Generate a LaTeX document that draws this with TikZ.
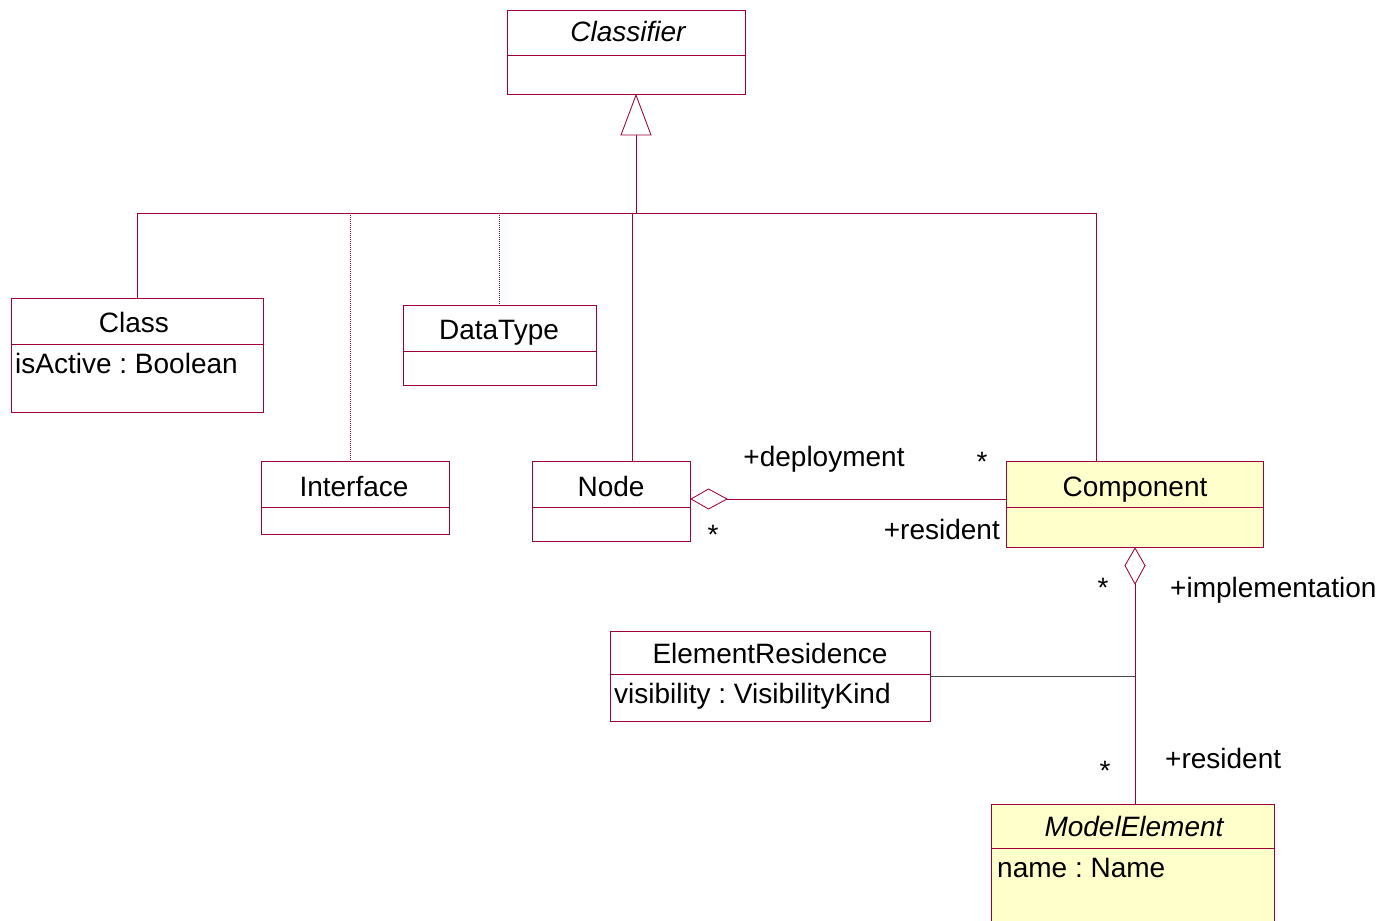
\documentclass[tikz,border=0pt]{standalone}
\usepackage{fontspec}
\setmainfont{Liberation Sans}
\frenchspacing
\begin{document}
\begin{tikzpicture}[x=1pt,y=-1pt,
  umlbox/.style={draw=umlred, line width=1.1pt, rectangle, inner sep=0pt, anchor=north west},
  divider/.style={draw=umlred, line width=0.9pt},
  assoc/.style={draw=umlred, line width=0.85pt},
  gen/.style={draw=umlred, line width=1pt, densely dotted},
  cname/.style={font=\fontsize{28}{32}\selectfont, inner sep=0pt, anchor=base},
  attr/.style={font=\fontsize{28}{32}\selectfont, inner sep=0pt, anchor=base west},
  role/.style={font=\fontsize{28}{32}\selectfont, inner sep=0pt},
  mult/.style={font=\fontsize{28}{32}\selectfont, inner sep=0pt, anchor=base},
]
\definecolor{umlred}{RGB}{160,0,60}
\definecolor{umlyellow}{RGB}{255,255,204}
\definecolor{acline}{RGB}{70,70,70}
\useasboundingbox (0,0) rectangle (1388,920);
\fill[white] (0,0) rectangle (1388,920);

% class boxes
\node[umlbox, minimum width=238pt, minimum height=84pt] (classifier) at (507,10) {};
\draw[divider] (507,55) -- (745,55);
\node[cname, font=\fontsize{28}{32}\selectfont\itshape] at (628,42) {Classifier};

\node[umlbox, minimum width=252pt, minimum height=114pt] (class) at (11,298) {};
\draw[divider] (11,344) -- (263,344);
\node[cname] at (134,332) {Class};
\node[attr] at (15,373) {isActive : Boolean};

\node[umlbox, minimum width=193pt, minimum height=80pt] (datatype) at (403,305) {};
\draw[divider] (403,351) -- (596,351);
\node[cname] at (499,339) {DataType};

\node[umlbox, minimum width=188pt, minimum height=73pt] (interface) at (261,461) {};
\draw[divider] (261,507) -- (449,507);
\node[cname] at (354,496) {Interface};

\node[umlbox, minimum width=158pt, minimum height=80pt] (node) at (532,461) {};
\draw[divider] (532,507) -- (690,507);
\node[cname] at (611,496) {Node};

\node[umlbox, fill=umlyellow, minimum width=257pt, minimum height=86pt] (component) at (1006,461) {};
\draw[divider] (1006,507) -- (1263,507);
\node[cname] at (1135,496) {Component};

\node[umlbox, minimum width=320pt, minimum height=90pt] (residence) at (610,631) {};
\draw[divider] (610,674) -- (930,674);
\node[cname] at (770,663) {ElementResidence};
\node[attr] at (614,703) {visibility : VisibilityKind};

\node[umlbox, fill=umlyellow, minimum width=283pt, minimum height=130pt] (modelelement) at (991,804) {};
\draw[divider] (991,848) -- (1274,848);
\node[cname, font=\fontsize{28}{32}\selectfont\itshape] at (1134,836) {ModelElement};
\node[attr] at (997,877) {name : Name};

% generalization tree
\coordinate (apex) at (classifier.south -| 636,0);
\coordinate (hub) at (636,213);
\draw[assoc] (636,135) -- (hub);
\draw[assoc, fill=white] (apex) -- (651,135) -- (621,135) -- cycle;
\draw[assoc] (137,213) -- (1096,213);
\draw[assoc] (137,213) -- (class.north -| 137,0);
\draw[gen] (350,213) -- (interface.north -| 350,0);
\draw[gen] (499,213) -- (datatype.north -| 499,0);
\draw[assoc] (632,213) -- (node.north -| 632,0);
\draw[assoc] (1096,213) -- (component.north -| 1096,0);

% Node <>-- Component
\coordinate (nd) at (node.east |- 0,499);
\draw[assoc, fill=white] (nd) -- (708.5,489) -- (727,499) -- (708.5,509) -- cycle;
\draw[assoc] (727,499) -- (component.west |- 0,499);
\node[role, anchor=base] at (824,466) {+deployment};
\node[mult] at (982,471) {*};
\node[mult] at (713,544) {*};
\node[role, anchor=base east] at (1000,539) {+resident};

% Component <>-- ModelElement
\coordinate (cd) at (component.south -| 1135,0);
\draw[assoc, fill=white] (cd) -- (1145,565.5) -- (1135,584) -- (1125,565.5) -- cycle;
\coordinate (junction) at (1135,676);
\draw[assoc] (1135,584) -- (modelelement.north -| 1135,0);
\node[mult] at (1103,597) {*};
\node[role, anchor=base west] at (1170,597) {+implementation};
\node[mult] at (1105,780) {*};
\node[role, anchor=base west] at (1165,768) {+resident};

% association class link
\draw[acline, line width=1pt] (residence.east |- junction) -- (junction);
\end{tikzpicture}
\end{document}
